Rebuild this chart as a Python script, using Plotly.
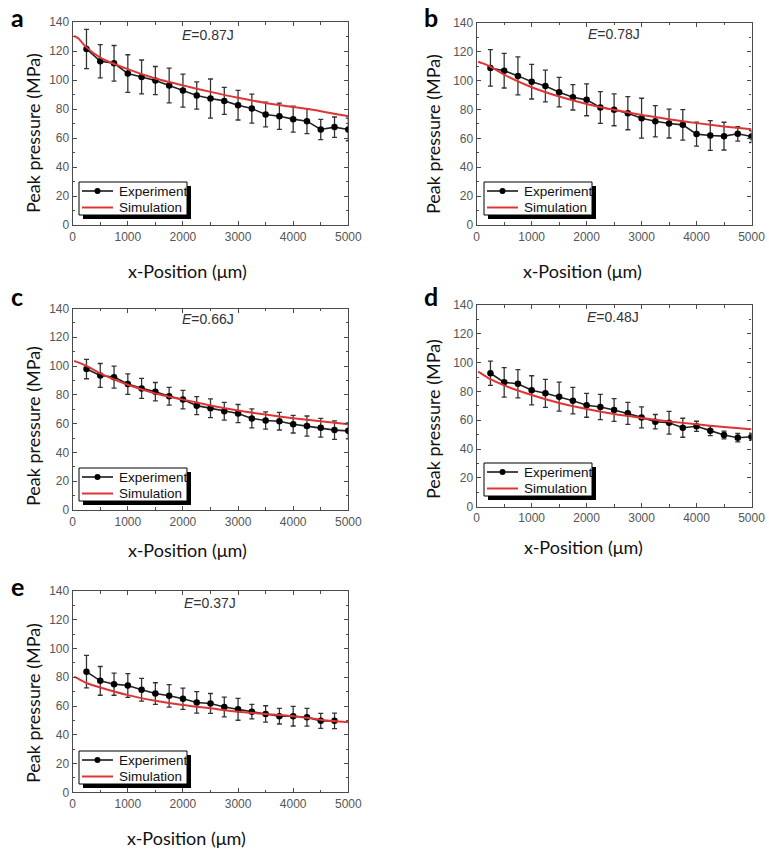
import plotly.graph_objects as go

W, H = 769, 850

# ---------------- data ----------------
x_exp = [250, 500, 750, 1000, 1250, 1500, 1750, 2000, 2250, 2500,
         2750, 3000, 3250, 3500, 3750, 4000, 4250, 4500, 4750, 5000]
x_exp_e = x_exp[:19]
x_sim = [25, 100, 250, 500, 1000, 1500, 2000, 2500, 3000, 3500, 4000, 4500, 5000]

a_exp = [121.4, 112.9, 111.5, 104.4, 102.1, 99.6, 96.2, 92.7, 89.3, 87.2,
         85.6, 82.6, 80.3, 76.2, 75.0, 73.0, 71.6, 65.9, 67.5, 65.9]
a_err = [13.5, 11.5, 12.3, 13.0, 11.7, 9.7, 12.0, 11.4, 9.4, 13.5,
         9.3, 10.2, 10.0, 8.5, 9.0, 9.0, 8.6, 7.0, 7.0, 7.8]
a_sim = [130.5, 128.8, 122.5, 115.5, 107.5, 101.0, 96.3, 91.8, 87.7, 84.2, 81.4, 78.5, 75.0]

b_exp = [108.7, 106.8, 103.2, 99.2, 96.2, 91.9, 88.4, 86.6, 81.3, 79.7,
         77.4, 73.9, 71.8, 70.2, 69.3, 62.9, 61.9, 61.5, 63.1, 61.2]
b_err = [12.6, 12.0, 13.2, 12.0, 11.0, 10.2, 8.8, 11.0, 11.0, 11.0,
         11.5, 13.8, 10.8, 10.0, 10.5, 8.3, 10.3, 9.6, 5.0, 4.1]
b_sim = [113.0, 112.0, 109.6, 104.0, 95.3, 88.9, 83.8, 79.7, 76.2, 73.2, 70.5, 68.2, 66.3]

c_exp = [97.9, 93.5, 92.3, 87.5, 84.5, 82.2, 79.0, 76.7, 72.5, 70.7,
         68.6, 67.0, 63.6, 62.2, 61.7, 59.6, 58.3, 57.1, 55.5, 55.0]
c_err = [6.7, 8.3, 7.6, 7.1, 7.0, 6.4, 6.2, 6.4, 6.3, 6.5,
         6.2, 6.3, 6.6, 6.0, 6.1, 6.1, 7.0, 6.5, 6.4, 5.5]
c_sim = [103.6, 102.6, 100.2, 94.9, 87.0, 81.0, 76.7, 72.6, 69.1, 66.3, 63.8, 61.7, 59.6]

d_exp = [92.6, 86.3, 85.4, 80.8, 78.7, 76.4, 73.6, 70.4, 69.2, 67.1,
         64.8, 62.0, 59.0, 58.3, 54.8, 55.8, 52.8, 49.8, 47.9, 48.6]
d_err = [8.4, 10.2, 9.8, 10.1, 9.7, 10.0, 9.2, 8.3, 8.7, 7.9,
         7.6, 7.3, 5.0, 7.9, 6.6, 3.5, 3.4, 2.7, 2.9, 2.5]
d_sim = [93.7, 92.0, 88.5, 84.2, 77.5, 72.0, 67.8, 64.3, 61.6, 59.2, 57.2, 55.3, 53.7]

e_exp = [83.9, 77.5, 75.2, 74.3, 71.3, 68.7, 67.1, 65.1, 62.5, 61.8,
         59.3, 57.7, 56.1, 54.5, 52.9, 52.9, 52.2, 49.7, 49.7]
e_err = [11.3, 10.0, 7.7, 8.3, 7.9, 7.5, 7.8, 7.4, 7.5, 6.9,
         6.9, 7.6, 5.1, 5.7, 5.4, 6.8, 6.2, 5.2, 5.4]
e_sim = [80.5, 79.0, 76.0, 72.9, 67.6, 63.7, 60.7, 58.4, 56.1, 54.5, 52.9, 50.5, 48.7]

panel_letters = ["a", "b", "c", "d", "e"]
energies = ["0.87J", "0.78J", "0.66J", "0.48J", "0.37J"]
series_names = ["Experiment", "Simulation"]
x_ticks = [0, 1000, 2000, 3000, 4000, 5000]
y_ticks = [0, 20, 40, 60, 80, 100, 120, 140]

panels = [
    (x_exp, a_exp, a_err, a_sim),
    (x_exp, b_exp, b_err, b_sim),
    (x_exp, c_exp, c_err, c_sim),
    (x_exp, d_exp, d_err, d_sim),
    (x_exp_e, e_exp, e_err, e_sim),
]

# ---------------- layout geometry (pixels) ----------------
frames = [
    (72.7, 348.3, 22.0, 225.0),
    (476.7, 751.5, 22.7, 225.0),
    (72.7, 348.3, 308.5, 510.0),
    (476.7, 751.5, 305.0, 506.7),
    (72.7, 348.3, 591.0, 792.3),
]
letter_pos = [(17, 17), (431, 17), (17, 296), (431, 296), (17, 586)]
energy_pos = [(208, 35.5), (614, 34.5), (208, 319), (613, 317), (210, 602.5)]
ytitle_pos = [(33, 133), (433, 134), (33, 426), (433, 419), (33, 703)]
xtitle_pos = [(187, 271), (582, 271), (187, 550), (583, 547), (186, 838)]
legend_box = [(79, 182), (484, 182), (79, 468), (484, 463), (79, 751)]  # left, top
LEG_W, LEG_H = 108, 33

EXP_COLOR = "#1a1a1a"
SIM_COLOR = "#e03434"


def px(x):
    return x / W


def py(y):
    return 1 - y / H


fig = go.Figure()
axis_color = "#4a4a4a"
tick_font = dict(family="Liberation Sans, Arial", size=12, color="#555555")
title_font = dict(family="Lato, Open Sans", size=18, color="#111111")
leg_font = dict(family="Liberation Sans, Arial", size=13.5, color="#111111")

annotations = []
shapes = []
layout_extra = {}


def ann(text, x, y, font, **kw):
    d = dict(text=text, x=px(x), y=py(y), xref="paper", yref="paper",
             showarrow=False, xanchor="center", yanchor="middle", font=font)
    d.update(kw)
    annotations.append(d)


for i, (xs, ys, err, sim) in enumerate(panels):
    n = i + 1
    xa = "x" if n == 1 else f"x{n}"
    ya = "y" if n == 1 else f"y{n}"
    l, r, t, b = frames[i]

    fig.add_trace(go.Scatter(
        x=xs, y=ys, mode="lines+markers", name=series_names[0],
        line=dict(color="#222222", width=1.6),
        marker=dict(color="#000000", size=6.5, symbol="circle"),
        error_y=dict(type="data", array=err, visible=True, color="#333333",
                     thickness=1.3, width=2.5),
        xaxis=xa, yaxis=ya, showlegend=False,
    ))
    fig.add_trace(go.Scatter(
        x=x_sim, y=sim, mode="lines", name=series_names[1],
        line=dict(color=SIM_COLOR, width=2, shape="spline", smoothing=0.6),
        xaxis=xa, yaxis=ya, showlegend=False,
    ))

    axkey_x = "xaxis" if n == 1 else f"xaxis{n}"
    axkey_y = "yaxis" if n == 1 else f"yaxis{n}"
    layout_extra[axkey_x] = dict(
        domain=[px(l), px(r)], anchor=ya, range=[0, 5000],
        tickvals=x_ticks, ticks="inside", ticklen=4, tickwidth=1,
        tickcolor=axis_color, showline=True, linecolor=axis_color,
        linewidth=1.2, mirror="ticks", showgrid=False, zeroline=False,
        tickfont=tick_font, automargin=False,
        minor=dict(tickvals=[500, 1500, 2500, 3500, 4500], ticks="inside",
                   ticklen=2.5, tickcolor=axis_color, showgrid=False),
    )
    layout_extra[axkey_y] = dict(
        domain=[py(b), py(t)], anchor=xa, range=[0, 140],
        tickvals=y_ticks, ticks="inside", ticklen=4, tickwidth=1,
        tickcolor=axis_color, showline=True, linecolor=axis_color,
        linewidth=1.2, mirror="ticks", showgrid=False, zeroline=False,
        tickfont=tick_font, automargin=False,
        minor=dict(tickvals=[10, 30, 50, 70, 90, 110, 130], ticks="inside",
                   ticklen=2.5, tickcolor=axis_color, showgrid=False),
    )

    # ---- legend box (framed key with drop shadow) ----
    lx, ly = legend_box[i]
    shapes.append(dict(type="rect", xref="paper", yref="paper",
                       x0=px(lx + 4), x1=px(lx + LEG_W + 4),
                       y0=py(ly + LEG_H + 4), y1=py(ly + 4),
                       fillcolor="#000000", line=dict(width=0), layer="above"))
    shapes.append(dict(type="rect", xref="paper", yref="paper",
                       x0=px(lx), x1=px(lx + LEG_W),
                       y0=py(ly + LEG_H), y1=py(ly),
                       fillcolor="white", line=dict(color="#000000", width=1),
                       layer="above"))
    y1 = ly + 9
    y2 = ly + 25.5
    shapes.append(dict(type="line", xref="paper", yref="paper",
                       x0=px(lx + 3), x1=px(lx + 34), y0=py(y1), y1=py(y1),
                       line=dict(color=EXP_COLOR, width=1.6), layer="above"))
    shapes.append(dict(type="circle", xref="paper", yref="paper",
                       x0=px(lx + 15.5), x1=px(lx + 21.5),
                       y0=py(y1 + 3), y1=py(y1 - 3),
                       fillcolor="#000000", line=dict(width=0), layer="above"))
    shapes.append(dict(type="line", xref="paper", yref="paper",
                       x0=px(lx + 3), x1=px(lx + 34), y0=py(y2), y1=py(y2),
                       line=dict(color=SIM_COLOR, width=2), layer="above"))
    ann(series_names[0], lx + 38, y1, leg_font, xanchor="left")
    ann(series_names[1], lx + 38, y2, leg_font, xanchor="left")

    cx, cy = letter_pos[i]
    ann(f"<b>{panel_letters[i]}</b>", cx, cy,
        dict(family="Lato, Liberation Sans", size=25, color="#000000"))
    ex, ey = energy_pos[i]
    ann(f"<i>E</i>={energies[i]}", ex, ey,
        dict(family="Liberation Sans, Arial", size=14, color="#333333"))
    tx, ty = ytitle_pos[i]
    ann("Peak pressure (MPa)", tx, ty, title_font, textangle=-90)
    qx, qy = xtitle_pos[i]
    ann("x-Position (μm)", qx, qy, title_font)

fig.update_layout(
    width=W, height=H, margin=dict(l=0, r=0, t=0, b=0, autoexpand=False),
    paper_bgcolor="white", plot_bgcolor="white",
    showlegend=False, annotations=annotations, shapes=shapes,
    **layout_extra,
)

fig.write_html(
    "out.html",
    config={"displayModeBar": False},
    post_script="document.body.style.margin='0';document.body.style.overflow='hidden';",
)
